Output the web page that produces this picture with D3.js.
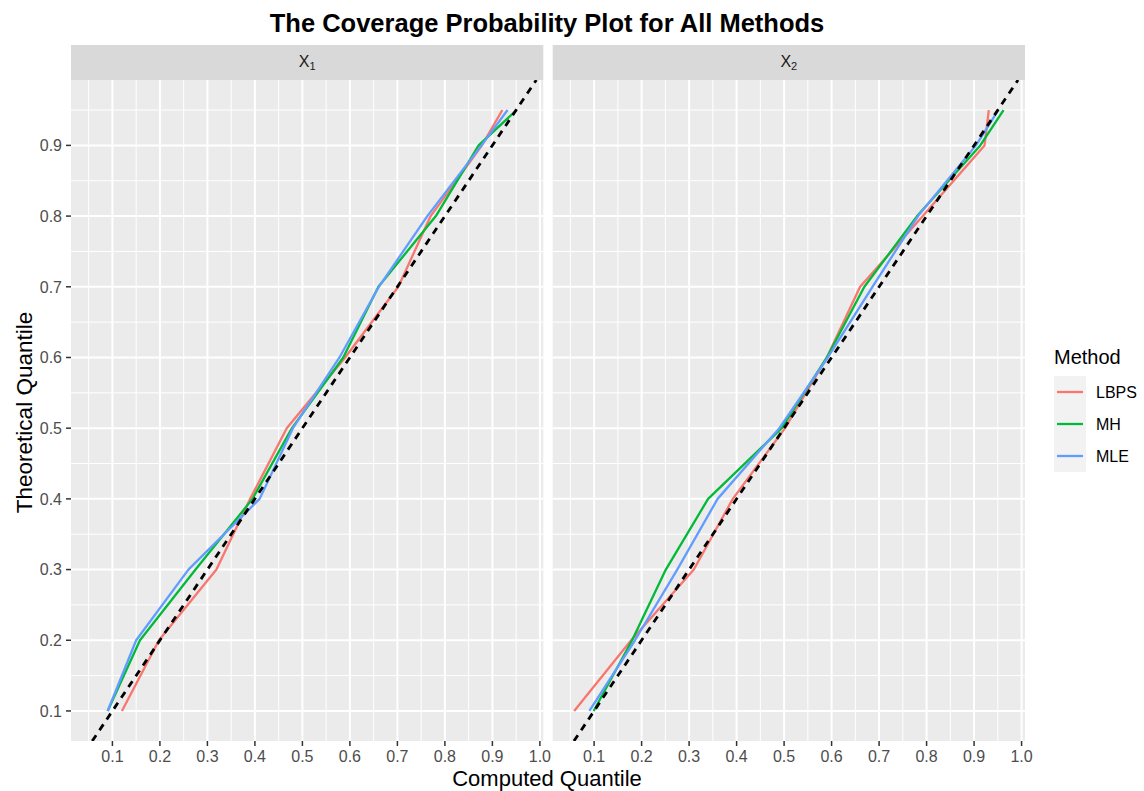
<!DOCTYPE html>
<html>
<head>
<meta charset="utf-8">
<script src="https://cdn.jsdelivr.net/npm/d3@7"></script>
<style>
  html, body { margin: 0; padding: 0; background: #ffffff; }
  svg { display: block; font-family: "Liberation Sans", Arial, Helvetica, sans-serif; }
</style>
</head>
<body>
<svg id="chart" width="1144" height="791"></svg>
<script>
// Theoretical quantile levels (shared by every curve)
const theoreticalQuantile = [0.1, 0.2, 0.3, 0.4, 0.5, 0.6, 0.7, 0.8, 0.9, 0.95];

// Computed quantiles, panel X1
const lbpsX1 = [0.12, 0.198, 0.319, 0.39, 0.467, 0.59, 0.702, 0.77, 0.878, 0.921];
const mhX1   = [0.09, 0.158, 0.275, 0.395, 0.478, 0.586, 0.66, 0.781, 0.871, 0.951];
const mleX1  = [0.09, 0.15, 0.26, 0.41, 0.48, 0.578, 0.661, 0.763, 0.877, 0.932];

// Computed quantiles, panel X2
const lbpsX2 = [0.058, 0.178, 0.31, 0.392, 0.502, 0.59, 0.66, 0.792, 0.922, 0.931];
const mhX2   = [0.099, 0.18, 0.251, 0.34, 0.495, 0.59, 0.669, 0.78, 0.913, 0.962];
const mleX2  = [0.09, 0.186, 0.275, 0.36, 0.49, 0.592, 0.686, 0.782, 0.904, 0.951];

const methods = ["LBPS", "MH", "MLE"];
const methodColors = ["#F8766D", "#00BA38", "#619CFF"];
const panelNames = ["1", "2"];
const xTicks = [0.1, 0.2, 0.3, 0.4, 0.5, 0.6, 0.7, 0.8, 0.9, 1.0];
const yTicks = [0.1, 0.2, 0.3, 0.4, 0.5, 0.6, 0.7, 0.8, 0.9];

const panels = [
  { sub: panelNames[0], series: [lbpsX1, mhX1, mleX1] },
  { sub: panelNames[1], series: [lbpsX2, mhX2, mleX2] }
];

const svg = d3.select("#chart");
const W = 1144, H = 791;
svg.append("rect").attr("width", W).attr("height", H).attr("fill", "#ffffff");

// Layout
const panelTop = 80, panelBottom = 741;
const stripTop = 45;
const panelLefts = [71, 552.7];
const panelWidth = 472.3;

// ggplot-style 5% expansion of the data range
function expand(ext, mult) {
  const r = ext[1] - ext[0];
  return [ext[0] - r * mult, ext[1] + r * mult];
}
const allX = panels.flatMap(p => p.series.flat());
const xDomain = expand(d3.extent(allX), 0.05);
const yDomain = expand(d3.extent(theoreticalQuantile), 0.05);

const y = d3.scaleLinear().domain(yDomain).range([panelBottom, panelTop]);

const minorX = d3.range(0.05, 1.01, 0.1).map(v => +v.toFixed(2)).filter(v => v > xDomain[0] && v < xDomain[1]);
const minorY = d3.range(0.05, 1.0, 0.1).map(v => +v.toFixed(2)).filter(v => v > yDomain[0] && v < yDomain[1]);

const tickFont = 16;
const tickColor = "#4D4D4D";

panels.forEach((p, pi) => {
  const left = panelLefts[pi];
  const x = d3.scaleLinear().domain(xDomain).range([left, left + panelWidth]);
  const g = svg.append("g");

  // Panel background
  g.append("rect").attr("x", left).attr("y", panelTop)
    .attr("width", panelWidth).attr("height", panelBottom - panelTop)
    .attr("fill", "#EBEBEB");

  // Minor grid
  g.selectAll(".mx").data(minorX).enter().append("line")
    .attr("x1", d => x(d)).attr("x2", d => x(d))
    .attr("y1", panelTop).attr("y2", panelBottom)
    .attr("stroke", "#ffffff").attr("stroke-width", 1);
  g.selectAll(".my").data(minorY).enter().append("line")
    .attr("x1", left).attr("x2", left + panelWidth)
    .attr("y1", d => y(d)).attr("y2", d => y(d))
    .attr("stroke", "#ffffff").attr("stroke-width", 1);
  // Major grid
  g.selectAll(".Mx").data(xTicks).enter().append("line")
    .attr("x1", d => x(d)).attr("x2", d => x(d))
    .attr("y1", panelTop).attr("y2", panelBottom)
    .attr("stroke", "#ffffff").attr("stroke-width", 2);
  g.selectAll(".My").data(yTicks).enter().append("line")
    .attr("x1", left).attr("x2", left + panelWidth)
    .attr("y1", d => y(d)).attr("y2", d => y(d))
    .attr("stroke", "#ffffff").attr("stroke-width", 2);

  // Strip
  g.append("rect").attr("x", left).attr("y", stripTop)
    .attr("width", panelWidth).attr("height", panelTop - stripTop)
    .attr("fill", "#D9D9D9");
  const st = g.append("text")
    .attr("x", left + panelWidth / 2).attr("y", 67)
    .attr("text-anchor", "middle")
    .attr("font-size", 16).attr("fill", "#1A1A1A");
  st.append("tspan").text("X");
  st.append("tspan").attr("font-size", 11).attr("dy", 3).text(p.sub);

  // Clip for marks
  const clipId = "clip" + pi;
  svg.append("clipPath").attr("id", clipId).append("rect")
    .attr("x", left).attr("y", panelTop)
    .attr("width", panelWidth).attr("height", panelBottom - panelTop);
  const marks = g.append("g").attr("clip-path", "url(#" + clipId + ")");

  // Method curves
  const line = d3.line().x(d => x(d[0])).y(d => y(d[1]));
  p.series.forEach((vals, si) => {
    const pts = vals.map((v, i) => [v, theoreticalQuantile[i]]);
    marks.append("path").datum(pts)
      .attr("d", line)
      .attr("fill", "none")
      .attr("stroke", methodColors[si])
      .attr("stroke-width", 2.3)
      .attr("stroke-linejoin", "round");
  });

  // Identity reference line y = x
  const lo = Math.max(xDomain[0], yDomain[0]);
  const hi = Math.min(xDomain[1], yDomain[1]);
  marks.append("path").datum([[lo, lo], [hi, hi]])
    .attr("d", line)
    .attr("fill", "none")
    .attr("stroke", "#000000")
    .attr("stroke-width", 2.8)
    .attr("stroke-dasharray", "7,6");

  // X axis ticks and labels
  const xa = svg.append("g");
  xa.selectAll("line").data(xTicks).enter().append("line")
    .attr("x1", d => x(d)).attr("x2", d => x(d))
    .attr("y1", panelBottom).attr("y2", panelBottom + 5)
    .attr("stroke", "#333333").attr("stroke-width", 1.5);
  xa.selectAll("text").data(xTicks).enter().append("text")
    .attr("x", d => x(d)).attr("y", 761.5)
    .attr("text-anchor", "middle")
    .attr("font-size", tickFont).attr("fill", tickColor)
    .text(d => d3.format(".1f")(d));
});

// Y axis ticks and labels (left panel only)
const ya = svg.append("g");
ya.selectAll("line").data(yTicks).enter().append("line")
  .attr("x1", panelLefts[0] - 5).attr("x2", panelLefts[0])
  .attr("y1", d => y(d)).attr("y2", d => y(d))
  .attr("stroke", "#333333").attr("stroke-width", 1.5);
ya.selectAll("text").data(yTicks).enter().append("text")
  .attr("x", 62).attr("y", d => y(d))
  .attr("dy", "0.36em")
  .attr("text-anchor", "end")
  .attr("font-size", tickFont).attr("fill", tickColor)
  .text(d => d3.format(".1f")(d));

// Titles
const plotCenter = (panelLefts[0] + panelLefts[1] + panelWidth) / 2;
svg.append("text")
  .attr("x", plotCenter - 1).attr("y", 31.5)
  .attr("text-anchor", "middle")
  .attr("font-size", 25.5).attr("font-weight", "bold").attr("fill", "#000000")
  .text("The Coverage Probability Plot for All Methods");
svg.append("text")
  .attr("x", plotCenter - 1).attr("y", 786)
  .attr("text-anchor", "middle")
  .attr("font-size", 22).attr("fill", "#000000")
  .text("Computed Quantile");
svg.append("text")
  .attr("transform", "translate(31.5," + ((panelTop + panelBottom) / 2 + 2) + ") rotate(-90)")
  .attr("text-anchor", "middle")
  .attr("font-size", 22.5).attr("fill", "#000000")
  .text("Theoretical Quantile");

// Legend
const legX = 1054, legY = 376, keySize = 32;
const leg = svg.append("g");
leg.append("text").attr("x", legX).attr("y", 364)
  .attr("font-size", 20).attr("fill", "#000000").text("Method");
methods.forEach((m, i) => {
  const ky = legY + i * keySize;
  leg.append("rect").attr("x", legX).attr("y", ky)
    .attr("width", keySize).attr("height", keySize).attr("fill", "#F2F2F2");
  leg.append("line")
    .attr("x1", legX + 3).attr("x2", legX + keySize - 3)
    .attr("y1", ky + keySize / 2).attr("y2", ky + keySize / 2)
    .attr("stroke", methodColors[i]).attr("stroke-width", 2.3);
  leg.append("text").attr("x", 1096).attr("y", ky + keySize / 2)
    .attr("dy", "0.36em")
    .attr("font-size", 16).attr("fill", "#000000").text(m);
});
</script>
</body>
</html>
